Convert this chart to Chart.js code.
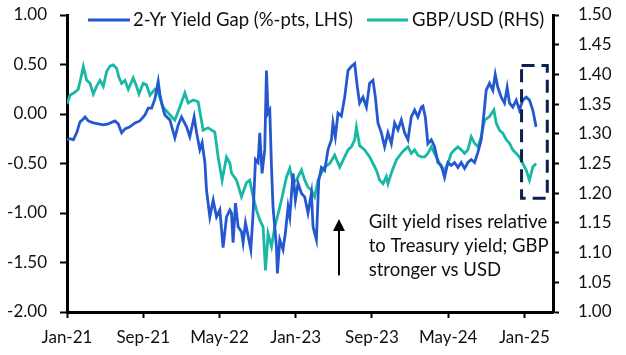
<!DOCTYPE html>
<html><head><meta charset="utf-8">
<script src="https://cdn.jsdelivr.net/npm/chart.js@4"></script>
<style>html,body{margin:0;padding:0;background:#fff}#wrap{width:626px;height:355px}</style>
</head><body><div id="wrap"><canvas id="c" width="626" height="355"></canvas></div>
<script>
// x positions are months since Jan-21
const tickMonths = [0, 8, 16, 24, 32, 40, 48];
const tickLabels = ['Jan-21', 'Sep-21', 'May-22', 'Jan-23', 'Sep-23', 'May-24', 'Jan-25'];
const leftTicks = [-2, -1.5, -1, -0.5, 0, 0.5, 1];
const rightTicks = [1, 1.05, 1.1, 1.15, 1.2, 1.25, 1.3, 1.35, 1.4, 1.45, 1.5];

const gapLabel = '2-Yr Yield Gap (%-pts, LHS)';
const gapMonths = [0,0.31,0.66,1.02,1.36,1.71,1.89,2.23,2.76,3.28,3.81,4.33,5.03,5.38,5.73,6.08,6.6,7.13,7.65,8.18,8.52,8.88,9.22,9.57,9.75,9.93,10.27,10.8,11.32,11.67,12.02,12.55,12.89,13.34,13.6,13.94,14.18,14.47,14.64,14.99,15.34,15.69,16.04,16.38,16.74,17.09,17.26,17.43,17.68,17.96,18.31,18.48,18.73,19,19.29,19.53,19.78,20.05,20.23,20.47,20.75,20.93,21.1,21.28,21.46,21.62,21.8,21.98,22.08,22.33,22.67,22.92,23.2,23.38,23.72,23.97,24.25,24.6,24.95,25.29,25.65,25.82,26.17,26.42,26.7,27.04,27.39,27.75,27.91,28.16,28.44,28.79,29.14,29.49,29.84,30.19,30.47,30.71,31.06,31.42,31.76,32.11,32.36,32.63,32.99,33.33,33.68,34.04,34.38,34.73,35.08,35.43,35.78,36.13,36.48,36.82,37.18,37.35,37.6,37.87,38.23,38.57,38.92,39.28,39.62,39.97,40.32,40.67,41.02,41.37,41.72,42.07,42.42,42.77,43.11,43.47,43.82,43.99,44.34,44.69,44.94,45.21,45.57,45.91,46.19,46.44,46.78,47.14,47.48,47.83,48.19,48.53,48.88,49.23];
const gapValues = [-0.26,-0.25,-0.26,-0.19,-0.08,-0.05,-0.03,-0.07,-0.09,-0.10,-0.11,-0.10,-0.07,-0.10,-0.19,-0.15,-0.13,-0.09,-0.07,-0.01,0.06,0.06,0.15,0.33,0.20,0.11,-0.01,-0.06,-0.24,-0.11,-0.03,-0.13,-0.23,-0.03,-0.19,-0.36,-0.29,-0.49,-0.77,-1.04,-0.87,-1.04,-0.97,-1.35,-1.04,-0.97,-1.00,-1.30,-0.90,-1.14,-1.19,-1.30,-1.10,-1.23,-1.37,-1.00,-0.46,-0.49,-0.19,-0.60,-0.36,0.44,0.01,0.04,-0.54,-0.94,-1.14,-1.34,-1.61,-1.27,-1.37,-1.20,-0.94,-1.04,-0.60,-0.87,-0.70,-0.80,-0.84,-1.00,-0.80,-1.14,-1.27,-0.67,-0.54,-0.57,-0.36,-0.26,-0.09,-0.23,0.01,-0.02,0.17,0.44,0.48,0.51,0.27,0.11,0.17,0.07,0.31,0.34,0.17,-0.09,-0.19,-0.33,-0.19,-0.30,-0.09,-0.16,-0.06,-0.19,-0.26,-0.03,0.04,-0.03,0.07,0.08,-0.03,-0.30,-0.26,-0.33,-0.49,-0.52,-0.64,-0.49,-0.52,-0.49,-0.54,-0.49,-0.55,-0.49,-0.46,-0.49,-0.39,-0.26,0.07,0.24,0.31,0.24,0.40,0.27,0.17,0.11,0.27,0.11,0.07,0.14,0.04,0.14,0.17,0.14,0.04,-0.13];

const fxLabel = 'GBP/USD (RHS)';
const fxMonths = [0,0.31,0.84,1.18,1.54,1.71,2.06,2.41,2.76,3.11,3.46,3.81,4.16,4.51,4.85,5.21,5.45,5.73,6.08,6.43,6.95,7.3,7.55,8,8.35,8.7,9.22,9.57,10.09,10.62,11.32,11.84,12.37,12.71,13.24,13.76,14.29,14.81,15.51,15.86,16.28,16.74,17.09,17.26,17.79,18.31,18.84,19.18,19.53,19.88,20.23,20.58,20.83,21.1,21.46,21.8,22.15,22.51,23.03,23.38,23.72,24.08,24.6,24.95,25.29,25.65,25.99,26.34,26.7,27.04,27.57,28.09,28.62,29.14,29.49,29.84,30.19,30.37,30.71,31.24,31.76,32.11,32.46,32.81,33.16,33.51,33.68,34.04,34.56,35.08,35.43,35.78,36.13,36.48,36.82,37.18,37.53,37.87,38.23,38.57,38.92,39.28,39.62,39.97,40.32,40.67,41.02,41.37,41.72,42.07,42.42,42.77,43.11,43.47,43.82,44.34,44.79,45.04,45.39,45.73,46.09,46.44,46.78,47.14,47.48,47.83,48.19,48.53,48.88,49.23];
const fxValues = [1.350,1.365,1.370,1.375,1.400,1.413,1.390,1.385,1.367,1.380,1.390,1.380,1.405,1.414,1.416,1.410,1.395,1.385,1.390,1.375,1.394,1.380,1.367,1.385,1.382,1.365,1.375,1.369,1.345,1.335,1.323,1.345,1.369,1.352,1.357,1.354,1.306,1.310,1.303,1.261,1.222,1.261,1.251,1.234,1.222,1.194,1.218,1.222,1.194,1.172,1.155,1.143,1.070,1.132,1.110,1.143,1.165,1.189,1.227,1.242,1.218,1.222,1.239,1.222,1.210,1.205,1.194,1.222,1.234,1.244,1.250,1.264,1.244,1.261,1.273,1.278,1.290,1.311,1.280,1.273,1.261,1.250,1.239,1.222,1.216,1.228,1.216,1.234,1.256,1.267,1.273,1.278,1.267,1.273,1.264,1.261,1.261,1.267,1.278,1.267,1.256,1.244,1.239,1.250,1.267,1.273,1.278,1.273,1.267,1.273,1.295,1.284,1.278,1.295,1.323,1.329,1.340,1.318,1.306,1.301,1.290,1.284,1.273,1.267,1.261,1.250,1.239,1.222,1.244,1.250];

const noteLines = ['Gilt yield rises relative', 'to Treasury yield; GBP', 'stronger vs USD'];

const FONT = 'Lato, "Open Sans", sans-serif';
const TXT = '#111111';
const BLUE = '#2458d0';
const TEAL = '#17b9a4';
const NAVY = '#0c2150';

function pts(xs, ys) { return xs.map((x, i) => ({ x: x, y: ys[i] })); }

const extras = {
  id: 'extras',
  afterDraw(chart) {
    const ctx = chart.ctx;
    const xs = chart.scales.x, yl = chart.scales.y;
    ctx.save();
    // legend
    ctx.font = '18.5px ' + FONT;
    ctx.fillStyle = TXT;
    ctx.textBaseline = 'middle';
    ctx.lineWidth = 3;
    ctx.strokeStyle = BLUE;
    ctx.beginPath(); ctx.moveTo(88, 20); ctx.lineTo(130, 20); ctx.stroke();
    ctx.fillText(chart.data.datasets[0].label, 133, 20);
    ctx.strokeStyle = TEAL;
    ctx.beginPath(); ctx.moveTo(367, 20); ctx.lineTo(408, 20); ctx.stroke();
    ctx.fillText(chart.data.datasets[1].label, 412, 20);
    // annotation text
    const tx = xs.getPixelForValue(31.66);
    const ty = yl.getPixelForValue(-1.09);
    noteLines.forEach((l, i) => ctx.fillText(l, tx, ty + i * 24));
    // arrow
    const ax = xs.getPixelForValue(28.54);
    const ay0 = yl.getPixelForValue(-1.63), ay1 = yl.getPixelForValue(-1.06);
    ctx.strokeStyle = '#000'; ctx.fillStyle = '#000'; ctx.lineWidth = 2;
    ctx.beginPath(); ctx.moveTo(ax, ay0); ctx.lineTo(ax, ay1 + 10); ctx.stroke();
    ctx.beginPath(); ctx.moveTo(ax, ay1); ctx.lineTo(ax - 6, ay1 + 12); ctx.lineTo(ax + 6, ay1 + 12); ctx.closePath(); ctx.fill();
    // dashed box
    const bx0 = xs.getPixelForValue(47.7), bx1 = xs.getPixelForValue(50.4);
    const by0 = yl.getPixelForValue(0.49), by1 = yl.getPixelForValue(-0.85);
    ctx.strokeStyle = NAVY; ctx.lineWidth = 3; ctx.setLineDash([13, 7]);
    ctx.strokeRect(bx0, by0, bx1 - bx0, by1 - by0);
    ctx.restore();
  }
};

const tickFont = { family: FONT, size: 17 };
function fixV(w) { return s => { s.width = w; s.paddingTop = 0; s.paddingBottom = 0; }; }

new Chart(document.getElementById('c'), {
  type: 'line',
  data: {
    datasets: [
      { label: gapLabel, data: pts(gapMonths, gapValues), yAxisID: 'y', borderColor: BLUE, borderWidth: 2.8, pointRadius: 0, tension: 0 },
      { label: fxLabel, data: pts(fxMonths, fxValues), yAxisID: 'y1', borderColor: TEAL, borderWidth: 2.8, pointRadius: 0, tension: 0 }
    ]
  },
  options: {
    responsive: false,
    devicePixelRatio: 1,
    animation: false,
    layout: { padding: { top: 15, left: 0, right: 0, bottom: 0 } },
    plugins: { legend: { display: false }, tooltip: { enabled: false } },
    scales: {
      x: {
        type: 'linear', min: 0, max: 51,
        afterBuildTicks: s => { s.ticks = tickMonths.map(v => ({ value: v })); },
        afterFit: s => { s.height = 43; },
        ticks: { callback: (v, i) => tickLabels[i], autoSkip: false, maxRotation: 0, font: tickFont, color: TXT, padding: 9 },
        grid: { display: true, drawOnChartArea: false, drawTicks: true, tickLength: 6, tickWidth: 2, tickColor: '#000' },
        border: { display: true, color: '#000', width: 3 }
      },
      y: {
        position: 'left', min: -2, max: 1,
        afterBuildTicks: s => { s.ticks = leftTicks.map(v => ({ value: v })); },
        afterFit: fixV(67),
        ticks: { callback: v => v.toFixed(2), font: tickFont, color: TXT, padding: 13 },
        grid: { display: true, drawOnChartArea: false, drawTicks: true, tickLength: 7, tickWidth: 2, tickColor: '#000' },
        border: { display: true, color: '#000', width: 3 }
      },
      y1: {
        position: 'right', min: 1, max: 1.5,
        afterBuildTicks: s => { s.ticks = rightTicks.map(v => ({ value: v })); },
        afterFit: fixV(73),
        ticks: { callback: v => v.toFixed(2), font: tickFont, color: TXT, padding: 19 },
        grid: { display: true, drawOnChartArea: false, drawTicks: true, tickLength: 6, tickWidth: 2, tickColor: '#000' },
        border: { display: true, color: '#000', width: 3 }
      }
    }
  },
  plugins: [extras]
});
</script></body></html>
